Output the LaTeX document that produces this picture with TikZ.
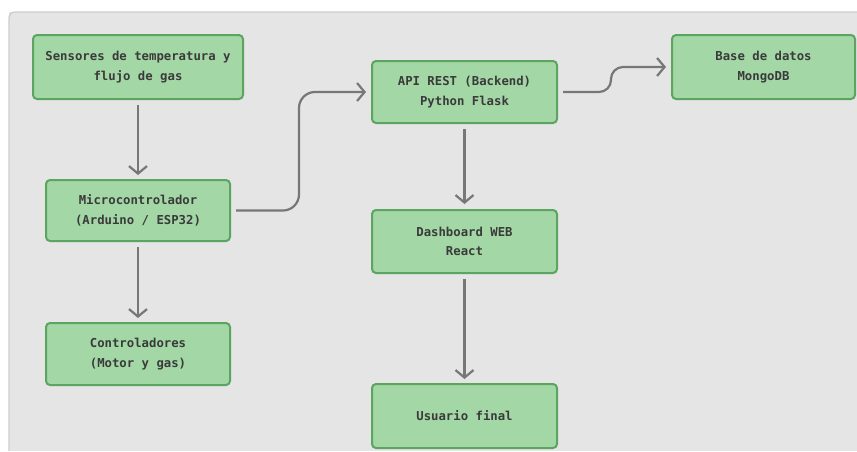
\documentclass[tikz,border=0pt]{standalone}
\usepackage{fontspec}
\newfontfamily\boxfont{DejaVu Sans Mono}
\usetikzlibrary{arrows.meta}
\definecolor{bgfill}{HTML}{E5E5E5}
\definecolor{bgline}{HTML}{CFCBCB}
\definecolor{boxfill}{HTML}{A3D7A5}
\definecolor{boxline}{HTML}{5BA560}
\definecolor{txt}{HTML}{3A3A3A}
\definecolor{arrowgray}{HTML}{777777}
\begin{document}
\begin{tikzpicture}[x=1pt,y=-1pt,
  box/.style={draw=boxline, fill=boxfill, line width=2pt, rounded corners=4pt,
    align=center, text=txt, inner sep=2pt,
    font=\boxfont\bfseries\fontsize{12.3}{19.5}\selectfont},
  arr/.style={draw=arrowgray, line width=2.2pt,
    -{Straight Barb[length=7.5pt,width=18pt,line width=2.2pt]}}]
\useasboundingbox (0,0) rectangle (857,451);
\fill[white] (0,0) rectangle (857,451);
\fill[bgfill] (9,12) rectangle (857,451);
\draw[bgline, line width=1.2pt, rounded corners=6pt] (9,451) -- (9,12) -- (857,12);
% nodes
\node[box, minimum width=210pt, minimum height=64pt] (sens) at (138,67) {Sensores de temperatura y\\flujo de gas};
\node[box, minimum width=184pt, minimum height=61pt] (micro) at (138,210.5) {Microcontrolador\\(Arduino / ESP32)};
\node[box, minimum width=184pt, minimum height=62pt] (ctrl) at (138,354) {Controladores\\(Motor y gas)};
\node[box, minimum width=185pt, minimum height=62pt] (api) at (464.5,92) {API REST (Backend)\\Python Flask};
\node[box, minimum width=185pt, minimum height=63pt] (dash) at (464.5,241.5) {Dashboard WEB\\React};
\node[box, minimum width=185pt, minimum height=64pt] (user) at (464.5,416) {Usuario final};
\node[box, minimum width=183pt, minimum height=64pt] (db) at (763.5,67) {Base de datos\\MongoDB};
% connectors
\draw[arr] ([yshift=-5pt]sens.south) -- ([yshift=4pt]micro.north);
\draw[arr] ([yshift=-5pt]micro.south) -- ([yshift=4pt]ctrl.north);
\draw[arr] ([yshift=-5pt]api.south) -- ([yshift=5pt]dash.north);
\draw[arr] ([yshift=-5pt]dash.south) -- ([yshift=4pt]user.north);
\draw[arr, rounded corners=16pt] ([xshift=5pt]micro.east) -| ([xshift=-72pt]api.west) -- ([xshift=-5pt]api.west);
\draw[arr, rounded corners=12pt] ([xshift=5pt]api.east) -| ([xshift=-60pt]db.west) -- ([xshift=-5pt]db.west);
\end{tikzpicture}
\end{document}
